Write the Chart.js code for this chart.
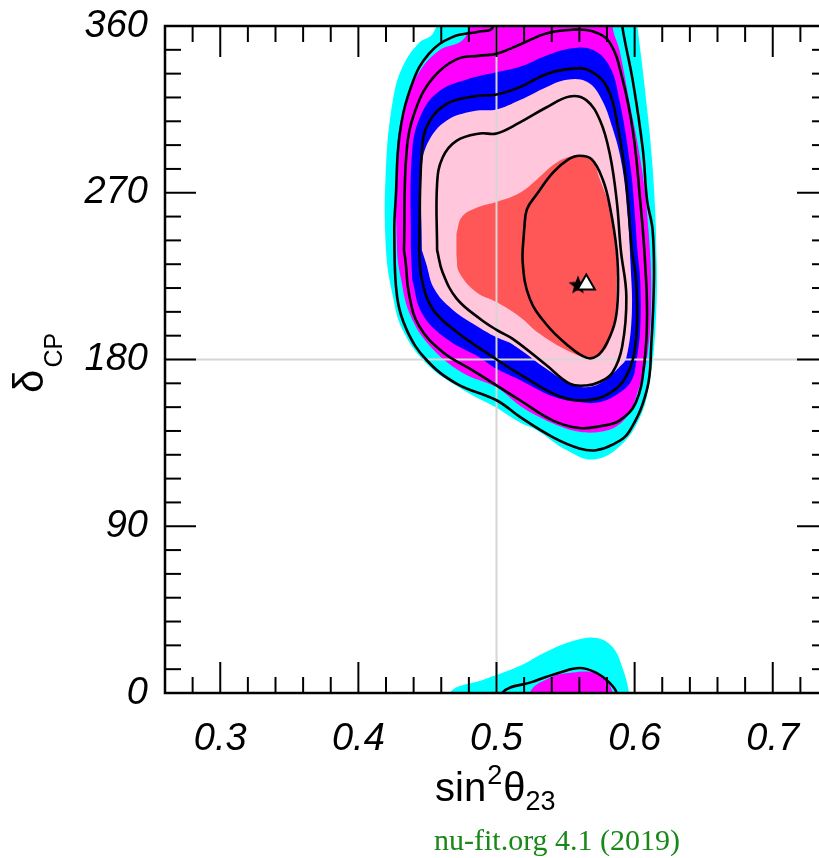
<!DOCTYPE html>
<html>
<head>
<meta charset="utf-8">
<title>nu-fit delta_CP vs sin2theta23</title>
<script src="https://cdn.jsdelivr.net/npm/chart.js@4.4.0/dist/chart.umd.min.js"></script>
<style>
  html, body { margin: 0; padding: 0; background: #fff; overflow: hidden; }
  #wrap { position: relative; width: 840px; height: 858px; }
  #footer { position: absolute; left: 434px; top: 823px; font-family: 'Liberation Serif', serif; font-size: 30px; color: #188818; white-space: nowrap; }
</style>
</head>
<body>
<div id="wrap">
  <canvas id="chart" width="840" height="858"></canvas>
  <div id="footer">nu-fit.org 4.1 (2019)</div>
</div>
<script>
// axis ticks
const xTickValues = [0.3, 0.4, 0.5, 0.6, 0.7];
const xMinorTicks = [0.28, 0.32, 0.34, 0.36, 0.38, 0.42, 0.44, 0.46, 0.48, 0.52, 0.54, 0.56, 0.58, 0.62, 0.64, 0.66, 0.68, 0.72];
const yTickValues = [0, 90, 180, 270, 360];
const yMinorPerMajor = 7;
const gridX = [0.5];
const gridY = [180];

// filled regions (sin^2 theta23, delta_CP in degrees)
const cyanTop = [[0.466,380],[0.454,356],[0.444,351],[0.432,338],[0.425,320],[0.420,284],[0.420,239],[0.425,214],[0.432,196],[0.449,178],[0.475,164],[0.500,154],[0.517,146],[0.529,142],[0.551,131],[0.570,126],[0.589,133],[0.604,149],[0.611,169],[0.615,196],[0.616,232],[0.613,284],[0.607,329],[0.602,360],[0.599,380]];
const magentaTop = [[0.482,380],[0.480,360],[0.475,352],[0.459,347],[0.444,335],[0.433,315],[0.428,293],[0.428,239],[0.431,223],[0.437,205],[0.451,188],[0.475,173],[0.500,165],[0.517,155],[0.531,149],[0.546,144],[0.560,141],[0.575,141],[0.587,144],[0.596,151],[0.602,162],[0.609,181],[0.612,214],[0.610,250],[0.605,284],[0.596,320],[0.589,347],[0.584,360],[0.585,380]];
const blueTop = [[0.438,239],[0.439,293],[0.446,313],[0.459,325],[0.478,331],[0.500,335],[0.517,338],[0.536,344],[0.555,348],[0.570,347],[0.582,338],[0.589,320],[0.597,284],[0.600,260],[0.602,239],[0.604,223],[0.604,196],[0.601,178],[0.598,169],[0.589,162],[0.575,157],[0.560,157],[0.541,160],[0.517,169],[0.500,175],[0.488,181],[0.464,191],[0.446,205],[0.439,223]];
const pinkTop = [[0.446,239],[0.446,284],[0.451,298],[0.464,309],[0.483,314],[0.500,315],[0.517,320],[0.536,327],[0.551,331],[0.565,330],[0.575,322],[0.584,305],[0.591,284],[0.595,257],[0.597,232],[0.598,205],[0.594,181],[0.589,176],[0.577,168],[0.565,165],[0.553,167],[0.536,175],[0.512,188],[0.500,192],[0.488,197],[0.468,207],[0.455,218],[0.449,232]];
const redTop = [[0.471,248],[0.475,257],[0.486,262],[0.500,265],[0.517,270],[0.529,277],[0.543,286],[0.555,290],[0.562,290],[0.569,288],[0.575,277],[0.582,262],[0.585,248],[0.587,232],[0.587,223],[0.586,205],[0.582,191],[0.577,184],[0.567,181],[0.551,185],[0.531,194],[0.517,203],[0.500,211],[0.486,216],[0.473,227],[0.471,236]];
const cyanBottom = [[0.462,-20],[0.466,0],[0.490,7],[0.515,14],[0.538,23],[0.558,28.6],[0.5725,29.7],[0.584,24.8],[0.591,14],[0.596,0],[0.599,-20]];
const magentaBottom = [[0.521,-20],[0.524,0],[0.538,8],[0.555,11],[0.570,11],[0.580,6],[0.584,0],[0.586,-20]];

// black contour lines
const black1Top = [[0.500,375],[0.497,359],[0.488,357],[0.468,354],[0.451,345],[0.439,329],[0.430,302],[0.427,266],[0.426,250],[0.428,214],[0.435,196],[0.449,180],[0.471,167],[0.500,158],[0.517,149],[0.541,138],[0.560,132],[0.572,131],[0.584,134],[0.596,141],[0.609,164],[0.612,187],[0.614,223],[0.613,250],[0.609,266],[0.606,293],[0.599,329],[0.591,360],[0.589,375]];
const black1Bottom = [[0.501,-15],[0.504,0],[0.526,6],[0.546,11],[0.560,13.5],[0.572,11],[0.582,5.4],[0.587,0],[0.589,-15]];
const black2 = [[0.433,239],[0.435,293],[0.442,316],[0.454,332],[0.471,342],[0.488,344],[0.500,345],[0.517,350],[0.536,356],[0.555,358],[0.570,357],[0.582,351],[0.591,332],[0.599,302],[0.604,266],[0.607,239],[0.609,205],[0.607,178],[0.601,157],[0.589,147],[0.575,144],[0.560,143],[0.541,147],[0.517,158],[0.500,166],[0.483,174],[0.461,184],[0.444,198],[0.437,214],[0.434,234],[0.433,239]];
const black3 = [[0.444,239],[0.446,293],[0.451,308],[0.464,318],[0.483,322],[0.500,323],[0.517,327],[0.536,334],[0.555,337],[0.567,336],[0.580,327],[0.588,305],[0.594,275],[0.598,239],[0.601,223],[0.601,191],[0.594,171],[0.580,161],[0.565,158],[0.546,160],[0.517,172],[0.500,180],[0.471,195],[0.454,207],[0.446,223],[0.444,239]];
const black4 = [[0.457,239],[0.457,275],[0.461,289],[0.471,298],[0.488,302],[0.500,302],[0.517,308],[0.536,316],[0.553,322],[0.565,320],[0.575,309],[0.582,291],[0.587,266],[0.590,239],[0.594,214],[0.591,187],[0.584,173],[0.575,168],[0.565,166],[0.553,167],[0.536,177],[0.512,191],[0.500,196],[0.488,202],[0.471,213],[0.461,227],[0.457,239]];
const black5 = [[0.520,250],[0.522,261],[0.529,269],[0.541,281],[0.552,288],[0.560,290],[0.569,288],[0.577,277],[0.582,263],[0.587,239],[0.588,218],[0.586,201],[0.580,189],[0.573,182],[0.565,181],[0.551,188],[0.536,199],[0.524,213],[0.519,232],[0.520,250]];

// best fit points
const bestFitStar = [[0.559, 220]];
const bestFitTriangle = [[0.565, 220.5]];

const toPoints = arr => arr.map(p => ({ x: p[0], y: p[1] }));

function region(label, arr, color, order) {
    return {
        label: label,
        data: toPoints(arr),
        showLine: true,
        fill: 'shape',
        backgroundColor: color,
        borderColor: color,
        borderWidth: 0,
        pointRadius: 0,
        tension: 0.4,
        order: order,
        clip: 0
    };
}

function contour(label, arr) {
    return {
        label: label,
        data: toPoints(arr),
        showLine: true,
        fill: false,
        borderColor: '#000',
        borderWidth: 2.6,
        pointRadius: 0,
        tension: 0.4,
        order: 1,
        clip: 0
    };
}

function starImage(r) {
    const c = document.createElement('canvas');
    c.width = c.height = 2 * r + 2;
    const g = c.getContext('2d');
    g.fillStyle = '#000';
    g.beginPath();
    for (let i = 0; i < 10; i++) {
        const a = -Math.PI / 2 + i * Math.PI / 5;
        const rr = i % 2 ? r * 0.42 : r;
        g.lineTo(r + 1 + rr * Math.cos(a), r + 1 + rr * Math.sin(a));
    }
    g.closePath();
    g.fill();
    return c;
}

const datasets = [
    { label: 'triangle', data: toPoints(bestFitTriangle), pointStyle: 'triangle', pointRadius: 10, backgroundColor: '#fff', borderColor: '#000', borderWidth: 2, order: 0 },
    { label: 'star', data: toPoints(bestFitStar), pointStyle: starImage(10), pointRadius: 10, order: 0 },
    contour('b1top', black1Top),
    contour('b1bottom', black1Bottom),
    contour('b2', black2),
    contour('b3', black3),
    contour('b4', black4),
    contour('b5', black5),
    region('red', redTop, '#ff5757', 2),
    region('pink', pinkTop, '#ffc6dc', 3),
    region('blue', blueTop, '#0000ff', 4),
    region('magenta', magentaTop, '#ff00ff', 5),
    region('magentaBottom', magentaBottom, '#ff00ff', 5),
    region('cyan', cyanTop, '#00ffff', 6),
    region('cyanBottom', cyanBottom, '#00ffff', 6)
];

const tickFont = { family: 'Liberation Sans', size: 38, style: 'italic' };

const framePlugin = {
    id: 'frame',
    afterDatasetDraw(chart, args) {
        if (chart.data.datasets[args.index].label !== 'red') return;
        const ctx = chart.ctx, a = chart.chartArea;
        const xs = chart.scales.x, ys = chart.scales.y;
        ctx.save();
        ctx.strokeStyle = '#d6d6d6';
        ctx.lineWidth = 2;
        gridX.forEach(v => {
            const px = xs.getPixelForValue(v);
            ctx.beginPath(); ctx.moveTo(px, a.top); ctx.lineTo(px, a.bottom); ctx.stroke();
        });
        gridY.forEach(v => {
            const py = ys.getPixelForValue(v);
            ctx.beginPath(); ctx.moveTo(a.left, py); ctx.lineTo(a.right, py); ctx.stroke();
        });
        ctx.restore();
    },
    afterDatasetsDraw(chart) {
        const ctx = chart.ctx, a = chart.chartArea;
        const xs = chart.scales.x, ys = chart.scales.y;
        const line = (x1, y1, x2, y2) => { ctx.beginPath(); ctx.moveTo(x1, y1); ctx.lineTo(x2, y2); ctx.stroke(); };
        ctx.save();
        ctx.strokeStyle = '#000';
        ctx.lineWidth = 2;
        xTickValues.forEach(v => {
            const px = xs.getPixelForValue(v);
            line(px, a.bottom, px, a.bottom - 31);
            line(px, a.top, px, a.top + 31);
        });
        xMinorTicks.forEach(v => {
            const px = xs.getPixelForValue(v);
            line(px, a.bottom, px, a.bottom - 16);
            line(px, a.top, px, a.top + 16);
        });
        yTickValues.forEach((v, i) => {
            const py = ys.getPixelForValue(v);
            line(a.left, py, a.left + 31, py);
            line(a.right, py, a.right - 31, py);
            if (i === yTickValues.length - 1) return;
            const step = (yTickValues[i + 1] - v) / yMinorPerMajor;
            for (let k = 1; k < yMinorPerMajor; k++) {
                const pm = ys.getPixelForValue(v + k * step);
                line(a.left, pm, a.left + 16, pm);
                line(a.right, pm, a.right - 16, pm);
            }
        });
        ctx.lineWidth = 2.5;
        ctx.strokeRect(a.left, a.top, a.right - a.left, a.bottom - a.top);

        // axis titles
        ctx.fillStyle = '#000';
        ctx.textBaseline = 'alphabetic';
        ctx.textAlign = 'left';
        let x = 435;
        const base = 801;
        ctx.font = '40px "Liberation Sans"';
        ctx.fillText('sin', x, base);
        x += ctx.measureText('sin').width + 1;
        ctx.font = '27px "Liberation Sans"';
        ctx.fillText('2', x, base - 17);
        x += ctx.measureText('2').width + 1;
        ctx.font = '40px "Liberation Sans"';
        ctx.fillText('θ', x, base);
        x += ctx.measureText('θ').width;
        ctx.font = '27px "Liberation Sans"';
        ctx.fillText('23', x, base + 9);

        ctx.translate(43, 393);
        ctx.rotate(-Math.PI / 2);
        ctx.font = '42px "Liberation Sans"';
        ctx.fillText('δ', 0, 0);
        const dw = ctx.measureText('δ').width;
        ctx.font = '25px "Liberation Sans"';
        ctx.fillText('CP', dw + 2, 19);
        ctx.restore();
    }
};

new Chart(document.getElementById('chart').getContext('2d'), {
    type: 'scatter',
    data: { datasets: datasets },
    options: {
        responsive: false,
        animation: false,
        events: [],
        layout: { padding: { top: 26, right: 12, left: 0, bottom: 0 } },
        elements: { line: { capBezierPoints: false } },
        plugins: { legend: { display: false }, tooltip: { enabled: false } },
        scales: {
            x: {
                type: 'linear', min: 0.26, max: 0.74,
                grid: { display: false, drawTicks: false },
                border: { display: false },
                afterBuildTicks: s => { s.ticks = xTickValues.map(v => ({ value: v })); },
                afterFit: s => { s.height = 165; s.paddingLeft = 0; s.paddingRight = 0; },
                ticks: { font: tickFont, color: '#000', padding: 24, maxRotation: 0, autoSkip: false, callback: v => v.toFixed(1) }
            },
            y: {
                type: 'linear', min: 0, max: 360,
                grid: { display: false, drawTicks: false },
                border: { display: false },
                afterBuildTicks: s => { s.ticks = yTickValues.map(v => ({ value: v })); },
                afterFit: s => { s.width = 165; s.paddingTop = 0; s.paddingBottom = 0; },
                ticks: { font: tickFont, color: '#000', padding: 17, autoSkip: false, callback: v => String(v) }
            }
        }
    },
    plugins: [framePlugin]
});
</script>
</body>
</html>
